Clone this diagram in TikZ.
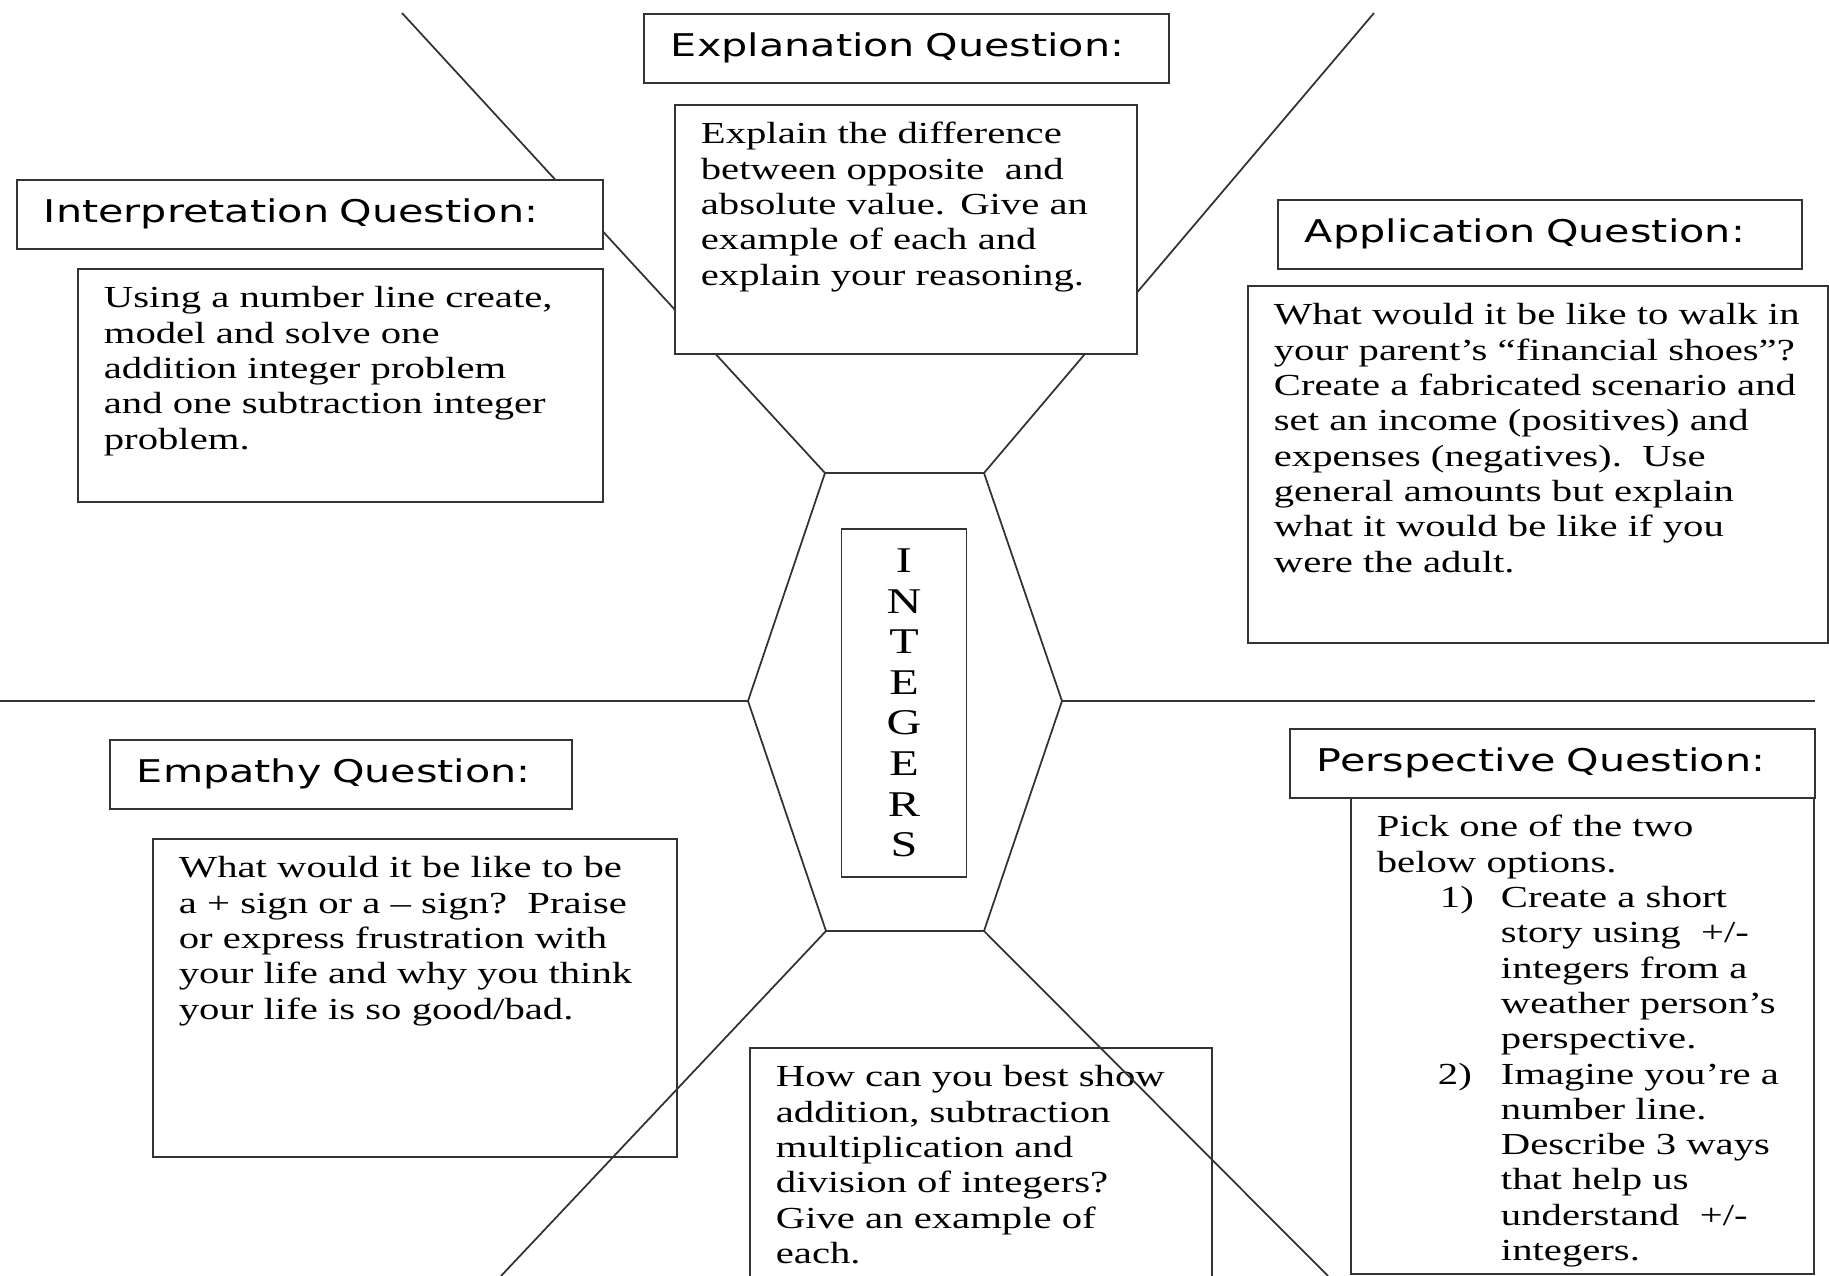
\documentclass[tikz,border=0pt]{standalone}
\usepackage{fontspec}
\newfontfamily\headfont[FakeStretch=1.32]{DejaVu Sans}
\newfontfamily\bodyfont[FakeStretch=1.33]{Liberation Serif}

\begin{document}
\begin{tikzpicture}
        [x=0.01cm, y=-0.01cm, line width=0.5pt,
         conn/.style={draw=black!80},
         qhead/.style={draw=black!80, fill=white, anchor=north west, align=left, inner xsep=0.27cm, inner ysep=0pt,
           text height=0.43cm, text depth=0.26cm, font=\headfont\fontsize{8.9}{10}\selectfont},
         qbody/.style={draw=black!80, fill=white, anchor=north west, align=left, inner xsep=0.26cm, inner ysep=0pt,
           text height=0.39cm, font=\bodyfont\fontsize{8.7}{10.04}\selectfont}]

        \useasboundingbox (0,0) rectangle (1829,1276);
        \clip (0,0) rectangle (1829,1276);

        \coordinate (hexnw) at (825, 473);
        \coordinate (hexne) at (984, 473);
        \coordinate (hexe) at (1062, 701);
        \coordinate (hexse) at (984, 931);
        \coordinate (hexsw) at (826, 931);
        \coordinate (hexw) at (748, 701);
        \coordinate (endnw) at (402, 13);
        \coordinate (endne) at (1374, 13);
        \coordinate (endw) at (0, 701);
        \coordinate (ende) at (1815, 701);
        \coordinate (endsw) at (501, 1276);
        \coordinate (endse) at (1328, 1276);

        \draw[conn] (endnw) -- (hexnw);
        \draw[conn] (endne) -- (hexne);
        \draw[conn] (endw) -- (hexw);
        \draw[conn] (ende) -- (hexe);
        \draw[conn] (hexnw) -- (hexne) -- (hexe) -- (hexse) -- (hexsw) -- (hexw) -- cycle;

        \node[qhead, text width=4.71cm] (explh) at (643, 13) {Explanation Question:};
        \node[qbody, text width=4.10cm, text depth=2.10cm] (explb) at (674, 104)
          {Explain the difference\\ between opposite\ \ and\\ absolute value. Give an\\ example of each and\\ explain your reasoning.};
        \node[qhead, text width=5.32cm] (interh) at (16, 179) {Interpretation Question:};
        \node[qbody, text width=4.73cm, text depth=1.94cm] (interb) at (77, 268)
          {Using a number line create,\\ model and solve one\\ addition integer problem\\ and one subtraction integer\\ problem.};
        \node[qhead, text width=4.70cm] (applh) at (1277, 199) {Application Question:};
        \node[qbody, text width=5.28cm, text depth=3.18cm] (applb) at (1247, 285)
          {What would it be like to walk in\\ your parent’s “financial shoes”?\\ Create a fabricated scenario and\\ set an income (positives) and\\ expenses (negatives).\ \ Use\\ general amounts but explain\\ what it would be like if you\\ were the adult.};
        \node[qhead, text width=4.08cm] (empah) at (109, 739) {Empathy Question:};
        \node[qbody, text width=4.72cm, text depth=2.79cm] (empab) at (152, 838)
          {What would it be like to be\\ a + sign or a – sign?\ \ Praise\\ or express frustration with\\ your life and why you think\\ your life is so good/bad.};
        \node[qhead, text width=4.71cm] (persh) at (1289, 728) {Perspective Question:};
        \node[qbody, text width=4.11cm, text depth=4.37cm] (persb) at (1350, 797)
          {Pick one of the two\\ below options.\\
           \hspace*{0.63cm}\makebox[0.61cm][l]{1)}Create a short\\
           \hspace*{1.24cm}story using\ \ +/-\\
           \hspace*{1.24cm}integers from a\\
           \hspace*{1.24cm}weather person’s\\
           \hspace*{1.24cm}perspective.\\
           \hspace*{0.61cm}\makebox[0.63cm][l]{2)}Imagine you’re a\\
           \hspace*{1.24cm}number line.\\
           \hspace*{1.24cm}Describe 3 ways\\
           \hspace*{1.24cm}that help us\\
           \hspace*{1.24cm}understand\ \ +/-\\
           \hspace*{1.24cm}integers.};
        \node[qbody, text width=4.10cm, text depth=2.21cm] (showb) at (749, 1047)
          {How can you best show\\ addition, subtraction\\ multiplication and\\ division of integers?\\ Give an example of\\ each.};
        \node[draw=black!80, fill=white, minimum width=1.25cm, minimum height=3.48cm, align=center,
          font=\bodyfont\fontsize{10.3}{11.55}\selectfont] (title) at (904, 703)
          {I\\ N\\ T\\ E\\ G\\ E\\ R\\ S};

        \draw[conn] (hexsw) -- (endsw);
        \draw[conn] (hexse) -- (endse);
      \end{tikzpicture}
\end{document}
